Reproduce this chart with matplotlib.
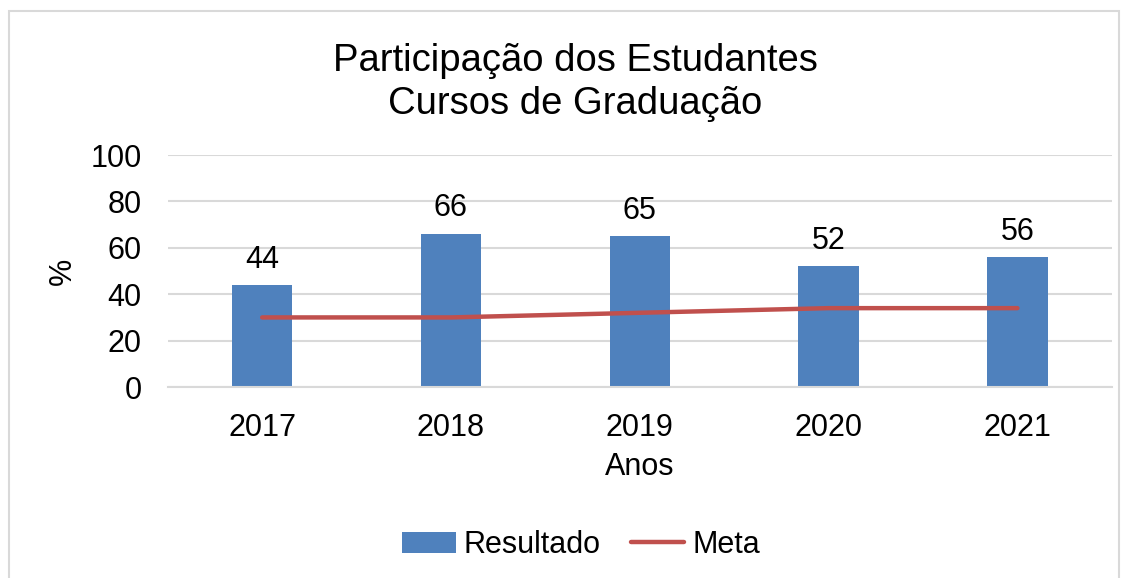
import matplotlib.pyplot as plt
from matplotlib.patches import Rectangle

# Data
anos = ['2017', '2018', '2019', '2020', '2021']
resultado = [44, 66, 65, 52, 56]
meta = [30, 30, 32, 34, 34]

plt.rcParams['font.family'] = ['Liberation Sans', 'DejaVu Sans']

fig = plt.figure(figsize=(11.26, 5.78), dpi=100)
ax = fig.add_axes([0.149, 0.3304, 0.8384, 0.4014])

x = range(len(anos))
bars = ax.bar(x, resultado, width=0.32, color='#4F81BD', label='Resultado', zorder=2)
line, = ax.plot(x, meta, color='#C0504D', linewidth=3.2, solid_capstyle='round',
                label='Meta', zorder=3)

for xi, v in zip(x, resultado):
    ax.annotate(str(v), (xi, v), xytext=(0, 7.5), textcoords='offset points',
                ha='center', va='bottom', fontsize=22)

ax.set_xlim(-0.5, len(anos) - 0.5)
ax.set_ylim(0, 100)
ax.set_yticks([0, 20, 40, 60, 80, 100])
ax.set_xticks(list(x))
ax.set_xticklabels(anos)
ax.tick_params(axis='both', length=0, labelsize=22, pad=19)
ax.grid(axis='y', color='#d9d9d9', linewidth=1.5, zorder=0)
ax.set_axisbelow(True)
for s in ['top', 'right', 'left']:
    ax.spines[s].set_visible(False)
ax.spines['bottom'].set_color('#d9d9d9')
ax.spines['bottom'].set_linewidth(1.5)

ax.set_xlabel('Anos', fontsize=22, labelpad=6)
ax.set_ylabel('%', fontsize=22, labelpad=9)

fig.text(0.511, 0.858, 'Participação dos Estudantes\nCursos de Graduação',
         ha='center', va='center', fontsize=27.5, linespacing=1.25)

fig.legend([bars, line], ['Resultado', 'Meta'], loc='center',
           bbox_to_anchor=(0.516, 0.057), ncol=2, frameon=False,
           fontsize=22, handlelength=1.75, columnspacing=1.0, handletextpad=0.25)

# outer chart border
fig.patches.append(Rectangle((9 / 1126, -0.05), 1110 / 1126, 1 - 11 / 578 + 0.05,
                             transform=fig.transFigure, fill=False,
                             edgecolor='#d9d9d9', linewidth=1.5))

fig.savefig('out.png', dpi=100)
